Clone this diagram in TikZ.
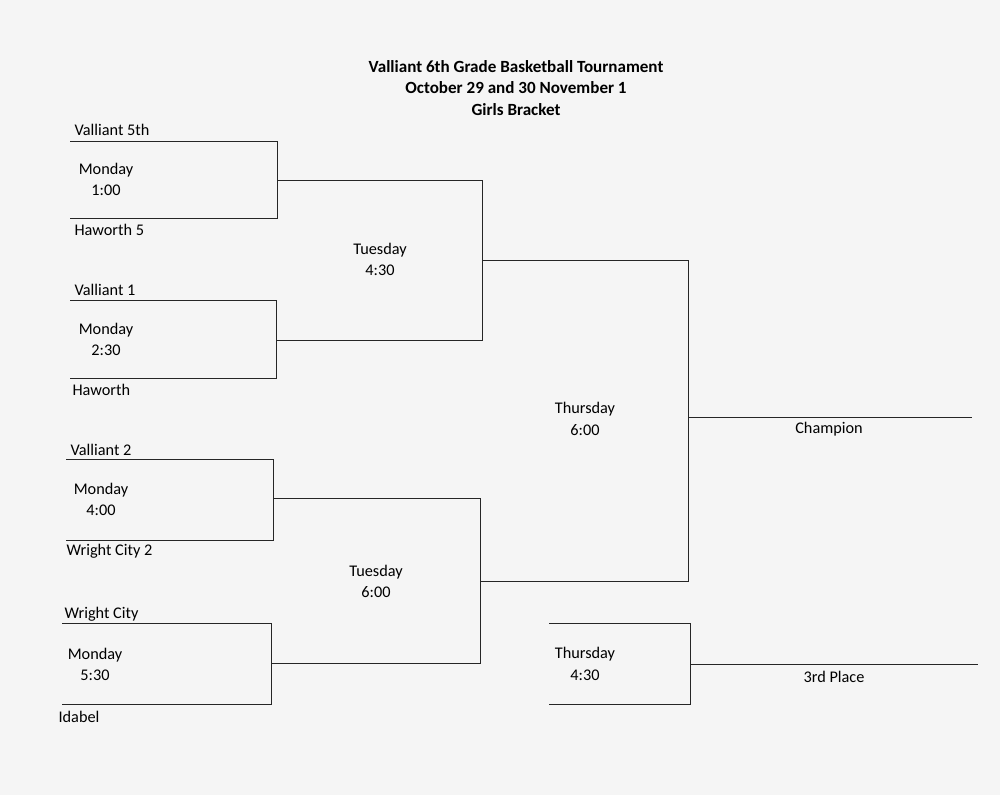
\documentclass[tikz,border=0pt]{standalone}
\usepackage{fontspec}
\setmainfont{Carlito}
\begin{document}
\begin{tikzpicture}[x=0.75pt,y=-0.75pt,
  br/.style={draw=black!85,line width=0.7pt},
  lbl/.style={font=\fontsize{12.2}{14}\selectfont,inner sep=1pt},
  ttl/.style={font=\bfseries\fontsize{12.8}{14}\selectfont,inner sep=1pt}]
\fill[gray!8] (0,0) rectangle (1000,795);
\useasboundingbox (0,0) rectangle (1000,795);
\node[ttl] (t1) at (516,67) {Valliant 6th Grade Basketball Tournament};
\node[ttl] (t2) at (516,88) {October 29 and 30 November 1};
\node[ttl] (t3) at (516,110) {Girls Bracket};
\foreach \n/\x/\y in {a1/70/141,a2/277/141,a3/277/218,a4/70/218,
  b1/70/300,b2/276/300,b3/276/378,b4/70/378,
  c1/66/459,c2/273/459,c3/273/540,c4/66/540,
  d1/62/623,d2/271/623,d3/271/704,d4/62/704,
  e1/277/180,e2/482/180,e3/482/340,e4/276/340,
  f1/273/498,f2/480/498,f3/480/663,f4/271/663,
  g1/482/260,g2/688/260,g3/688/581,g4/480/581,
  h1/688/417,h2/972/417,
  k1/549/623,k2/690/623,k3/690/704,k4/549/704,k5/690/664,k6/978/664}
  {\coordinate (\n) at (\x,\y);}
\draw[br] (a1)--(a2)--(a3)--(a4);
\draw[br] (b1)--(b2)--(b3)--(b4);
\draw[br] (c1)--(c2)--(c3)--(c4);
\draw[br] (d1)--(d2)--(d3)--(d4);
\draw[br] (e1)--(e2)--(e3)--(e4);
\draw[br] (f1)--(f2)--(f3)--(f4);
\draw[br] (g1)--(g2)--(g3)--(g4);
\draw[br] (h1)--(h2);
\draw[br] (k1)--(k2)--(k3)--(k4);
\draw[br] (k5)--(k6);
\node[lbl,anchor=west] (n1) at (73,130) {Valliant 5th};
\node[lbl] (m1) at (106,170) {Monday};
\node[lbl] (m1b) at (106,190) {1:00};
\node[lbl,anchor=west] (n2) at (73,230) {Haworth 5};
\node[lbl,anchor=west] (n3) at (73,290) {Valliant 1};
\node[lbl] (m2) at (106,330) {Monday};
\node[lbl] (m2b) at (106,350) {2:30};
\node[lbl,anchor=west] (n4) at (71,390) {Haworth};
\node[lbl,anchor=west] (n5) at (69,450) {Valliant 2};
\node[lbl] (m3) at (101,490) {Monday};
\node[lbl] (m3b) at (101,510) {4:00};
\node[lbl,anchor=west] (n6) at (65,551) {Wright City 2};
\node[lbl,anchor=west] (n7) at (63,614) {Wright City};
\node[lbl] (m4) at (95,655) {Monday};
\node[lbl] (m4b) at (95,675) {5:30};
\node[lbl,anchor=west] (n8) at (57,717) {Idabel};
\node[lbl] (tu1) at (380,250) {Tuesday};
\node[lbl] (tu1b) at (380,270) {4:30};
\node[lbl] (tu2) at (376,572) {Tuesday};
\node[lbl] (tu2b) at (376,592) {6:00};
\node[lbl] (th1) at (585,409) {Thursday};
\node[lbl] (th1b) at (585,430) {6:00};
\node[lbl] (th2) at (585,654) {Thursday};
\node[lbl] (th2b) at (585,675) {4:30};
\node[lbl] (ch) at (829,429) {Champion};
\node[lbl] (tp) at (834,677) {3rd Place};
\end{tikzpicture}
\end{document}
